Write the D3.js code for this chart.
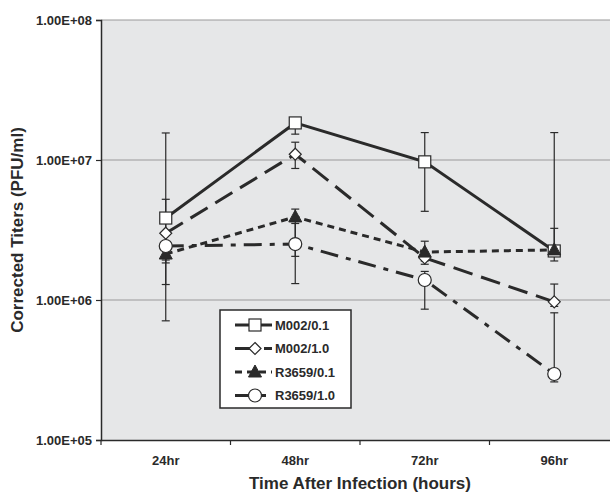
<!DOCTYPE html>
<html>
<head>
<meta charset="utf-8">
<script src="https://cdn.jsdelivr.net/npm/d3@7"></script>
<style>
  body { margin: 0; background: #fff; }
  svg { display: block; font-family: "Liberation Sans", Arial, sans-serif; }
</style>
</head>
<body>
<svg id="chart" width="610" height="495"></svg>
<script>
// ** DATA *****************************************
const times = ["24hr", "48hr", "72hr", "96hr"];
const yTicks = [1e5, 1e6, 1e7, 1e8];

const seriesNames = ["M002/0.1", "M002/1.0", "R3659/0.1", "R3659/1.0"];

const m002_01 = [3.85e6, 1.84e7, 9.7e6, 2.24e6];
const m002_10 = [3.0e6, 1.1e7, 2.0e6, 9.7e5];
const r3659_01 = [2.13e6, 3.92e6, 2.2e6, 2.28e6];
const r3659_10 = [2.43e6, 2.51e6, 1.39e6, 2.96e5];

// error bar ends [low, high] per time point
const m002_01_err = [[1.29e6, 1.56e7], [1.53e7, 2.0e7], [4.3e6, 1.57e7], [2.05e6, 1.57e7]];
const m002_10_err = [[7.1e5, 5.24e6], [8.7e6, 1.34e7], [1.8e6, 2.2e6], [9.0e5, 1.3e6]];
const r3659_01_err = [[1.93e6, 2.4e6], [2.05e6, 4.46e6], [1.9e6, 2.63e6], [1.9e6, 3.25e6]];
const r3659_10_err = [[1.84e6, 2.9e6], [1.31e6, 3.52e6], [8.6e5, 1.6e6], [2.6e5, 8.1e5]];

const series = [
    {name: seriesNames[0], values: m002_01, err: m002_01_err, dash: null, marker: "square"},
    {name: seriesNames[1], values: m002_10, err: m002_10_err, dash: "20,9", marker: "diamond"},
    {name: seriesNames[2], values: r3659_01, err: r3659_01_err, dash: "7,5", marker: "triangle"},
    {name: seriesNames[3], values: r3659_10, err: r3659_10_err, dash: "18,8,5,8", marker: "circle"}
];

// ** SETUP *****************************************
const MARGIN = {LEFT: 101, TOP: 20, RIGHT: 619, BOTTOM: 440};
const ink = "#2a2a2a";
let svg = d3.select("#chart");

let xScale = d3.scaleBand()
    .domain(times)
    .range([MARGIN.LEFT, MARGIN.RIGHT]);

let yScale = d3.scaleLog()
    .domain([1e5, 1e8])
    .range([MARGIN.BOTTOM, MARGIN.TOP]);

// plot background
svg.append("rect")
    .attr("x", MARGIN.LEFT)
    .attr("y", MARGIN.TOP)
    .attr("width", MARGIN.RIGHT - MARGIN.LEFT)
    .attr("height", MARGIN.BOTTOM - MARGIN.TOP)
    .attr("fill", "#e6e7e8");

// gridlines
svg.append("g")
    .selectAll("line")
    .data(yTicks.slice(1))
    .enter()
    .append("line")
    .attr("x1", MARGIN.LEFT)
    .attr("x2", MARGIN.RIGHT)
    .attr("y1", d => yScale(d))
    .attr("y2", d => yScale(d))
    .attr("stroke", "#9a9a9a")
    .attr("stroke-width", 1.2);

// ** AXES *****************************************
let yAxis = d3.axisLeft(yScale)
    .tickValues(yTicks)
    .tickSize(5)
    .tickPadding(4)
    .tickFormat(d => "1.00E+" + String(Math.round(Math.log10(d))).padStart(2, "0"));

let yG = svg.append("g")
    .attr("transform", "translate(" + MARGIN.LEFT + ",0)")
    .call(yAxis);
yG.select(".domain").attr("stroke", ink).attr("stroke-width", 1.5);
yG.selectAll(".tick line").attr("stroke", ink).attr("stroke-width", 1.2);
yG.selectAll(".tick text")
    .attr("fill", ink)
    .attr("font-size", "13px")
    .attr("font-weight", "bold")
    .attr("font-family", "'Liberation Sans', Arial, sans-serif");

let xAxis = d3.axisBottom(xScale)
    .tickSize(0)
    .tickPadding(16);

let xG = svg.append("g")
    .attr("transform", "translate(0," + MARGIN.BOTTOM + ")")
    .call(xAxis);
xG.select(".domain").attr("stroke", ink).attr("stroke-width", 1.5);
xG.selectAll(".tick text")
    .attr("fill", ink)
    .attr("font-size", "13px")
    .attr("font-weight", "bold")
    .attr("font-family", "'Liberation Sans', Arial, sans-serif");

// category boundary ticks
svg.append("g")
    .selectAll("line")
    .data(times)
    .enter()
    .append("line")
    .attr("x1", d => xScale(d))
    .attr("x2", d => xScale(d))
    .attr("y1", MARGIN.BOTTOM)
    .attr("y2", MARGIN.BOTTOM + 5)
    .attr("stroke", ink)
    .attr("stroke-width", 1.2);

// axis titles
svg.append("text")
    .attr("transform", "translate(23," + 230 + ") rotate(-90)")
    .attr("text-anchor", "middle")
    .attr("font-size", "17px")
    .attr("font-weight", "bold")
    .attr("fill", ink)
    .text("Corrected Titers (PFU/ml)");

svg.append("text")
    .attr("x", (MARGIN.LEFT + MARGIN.RIGHT) / 2)
    .attr("y", 489)
    .attr("text-anchor", "middle")
    .attr("font-size", "17px")
    .attr("font-weight", "bold")
    .attr("fill", ink)
    .text("Time After Infection (hours)");

// ** MARKERS *****************************************
function drawMarker(g, type, x, y) {
    if (type === "square") {
        g.append("rect")
            .attr("x", x - 6).attr("y", y - 6)
            .attr("width", 12).attr("height", 12)
            .attr("fill", "#fff").attr("stroke", ink).attr("stroke-width", 1.2);
    } else if (type === "diamond") {
        g.append("path")
            .attr("d", "M" + x + "," + (y - 6) + "L" + (x + 6) + "," + y + "L" + x + "," + (y + 6) + "L" + (x - 6) + "," + y + "Z")
            .attr("fill", "#fff").attr("stroke", ink).attr("stroke-width", 1.2);
    } else if (type === "triangle") {
        g.append("path")
            .attr("d", "M" + x + "," + (y - 7) + "L" + (x + 6.5) + "," + (y + 5) + "L" + (x - 6.5) + "," + (y + 5) + "Z")
            .attr("fill", ink).attr("stroke", ink).attr("stroke-width", 1);
    } else {
        g.append("circle")
            .attr("cx", x).attr("cy", y).attr("r", 6.5)
            .attr("fill", "#fff").attr("stroke", ink).attr("stroke-width", 1.2);
    }
}

let cx = d => xScale(d) + xScale.bandwidth() / 2;

// ** ERROR BARS *****************************************
let errG = svg.append("g");
series.forEach(s => {
    s.err.forEach((e, i) => {
        let x = cx(times[i]);
        errG.append("line")
            .attr("x1", x).attr("x2", x)
            .attr("y1", yScale(e[0])).attr("y2", yScale(e[1]))
            .attr("stroke", ink).attr("stroke-width", 1.2);
        e.forEach(v => {
            errG.append("line")
                .attr("x1", x - 4).attr("x2", x + 4)
                .attr("y1", yScale(v)).attr("y2", yScale(v))
                .attr("stroke", ink).attr("stroke-width", 1.2);
        });
    });
});

// ** LINES *****************************************
let line = d3.line()
    .x((d, i) => cx(times[i]))
    .y(d => yScale(d));

series.forEach(s => {
    svg.append("path")
        .datum(s.values)
        .attr("d", line)
        .attr("fill", "none")
        .attr("stroke", ink)
        .attr("stroke-width", 3)
        .attr("stroke-dasharray", s.dash);
});

series.forEach(s => {
    let g = svg.append("g");
    s.values.forEach((v, i) => drawMarker(g, s.marker, cx(times[i]), yScale(v)));
});

// ** LEGEND *****************************************
let legend = svg.append("g").attr("transform", "translate(220,310)");
legend.append("rect")
    .attr("width", 131)
    .attr("height", 98)
    .attr("fill", "#fff")
    .attr("stroke", ink)
    .attr("stroke-width", 1.5);

series.forEach((s, i) => {
    let y = 15 + i * 23.5;
    legend.append("line")
        .attr("x1", 15).attr("x2", 52)
        .attr("y1", y).attr("y2", y)
        .attr("stroke", ink)
        .attr("stroke-width", 3)
        .attr("stroke-dasharray", s.dash);
    drawMarker(legend, s.marker, 35, y);
    legend.append("text")
        .attr("x", 55)
        .attr("y", y + 4.5)
        .attr("font-size", "13px")
        .attr("font-weight", "bold")
        .attr("fill", ink)
        .text(s.name);
});
</script>
</body>
</html>
